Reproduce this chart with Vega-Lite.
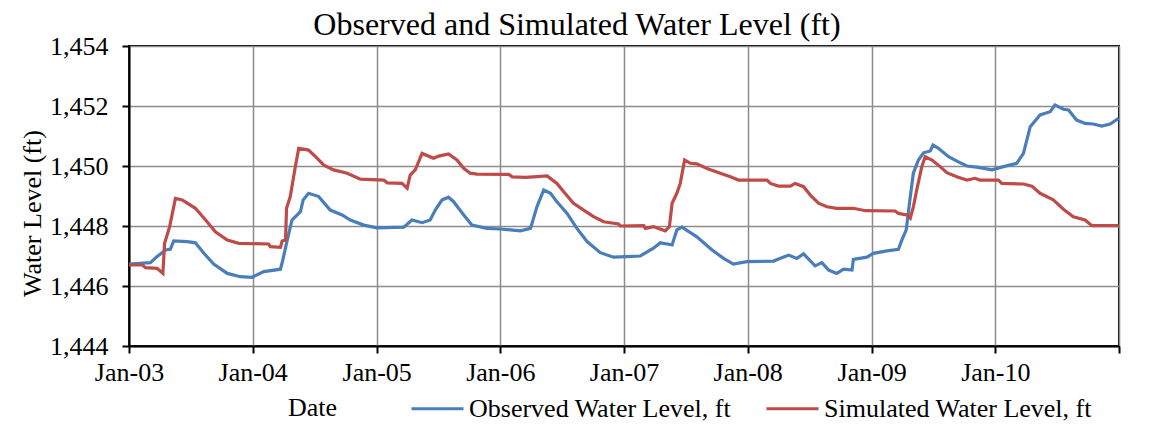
{
  "$schema": "https://vega.github.io/schema/vega-lite/v6.json",
  "width": 990,
  "height": 300,
  "autosize": {"type": "none"},
  "padding": {"left": 129, "top": 46, "right": 39, "bottom": 79},
  "background": "white",
  "title": {
    "text": "Observed and Simulated Water Level (ft)",
    "font": "Liberation Serif",
    "fontSize": 32,
    "fontWeight": "normal",
    "color": "black",
    "anchor": "middle",
    "dx": -47,
    "dy": 13,
    "offset": 4
  },
  "datasets": {
    "obs": [
      {"date": "2003-01-01", "level": 1446.73},
      {"date": "2003-03-05", "level": 1446.78},
      {"date": "2003-03-25", "level": 1446.98},
      {"date": "2003-04-19", "level": 1447.2},
      {"date": "2003-05-03", "level": 1447.22},
      {"date": "2003-05-13", "level": 1447.5},
      {"date": "2003-06-22", "level": 1447.48},
      {"date": "2003-07-16", "level": 1447.44},
      {"date": "2003-08-10", "level": 1447.09},
      {"date": "2003-09-08", "level": 1446.73},
      {"date": "2003-10-18", "level": 1446.42},
      {"date": "2003-11-26", "level": 1446.31},
      {"date": "2003-12-30", "level": 1446.29},
      {"date": "2004-02-03", "level": 1446.48},
      {"date": "2004-03-23", "level": 1446.56},
      {"date": "2004-03-30", "level": 1446.87},
      {"date": "2004-04-12", "level": 1447.53},
      {"date": "2004-04-26", "level": 1448.2},
      {"date": "2004-05-21", "level": 1448.48},
      {"date": "2004-05-29", "level": 1448.87},
      {"date": "2004-06-14", "level": 1449.09},
      {"date": "2004-07-14", "level": 1448.98},
      {"date": "2004-08-17", "level": 1448.53},
      {"date": "2004-09-21", "level": 1448.37},
      {"date": "2004-10-15", "level": 1448.2},
      {"date": "2004-11-24", "level": 1448.03},
      {"date": "2005-01-02", "level": 1447.94},
      {"date": "2005-03-22", "level": 1447.96},
      {"date": "2005-04-15", "level": 1448.2},
      {"date": "2005-05-15", "level": 1448.11},
      {"date": "2005-06-08", "level": 1448.2},
      {"date": "2005-06-23", "level": 1448.53},
      {"date": "2005-07-13", "level": 1448.87},
      {"date": "2005-08-01", "level": 1448.96},
      {"date": "2005-08-16", "level": 1448.81},
      {"date": "2005-09-15", "level": 1448.37},
      {"date": "2005-10-09", "level": 1448.03},
      {"date": "2005-11-23", "level": 1447.92},
      {"date": "2006-01-01", "level": 1447.9},
      {"date": "2006-03-01", "level": 1447.84},
      {"date": "2006-03-31", "level": 1447.92},
      {"date": "2006-04-19", "level": 1448.64},
      {"date": "2006-05-09", "level": 1449.2},
      {"date": "2006-05-29", "level": 1449.09},
      {"date": "2006-06-17", "level": 1448.81},
      {"date": "2006-07-17", "level": 1448.42},
      {"date": "2006-08-15", "level": 1447.92},
      {"date": "2006-09-14", "level": 1447.48},
      {"date": "2006-10-23", "level": 1447.11},
      {"date": "2006-12-01", "level": 1446.96},
      {"date": "2007-01-10", "level": 1446.98},
      {"date": "2007-02-18", "level": 1447.0},
      {"date": "2007-03-29", "level": 1447.26},
      {"date": "2007-04-18", "level": 1447.44},
      {"date": "2007-05-08", "level": 1447.4},
      {"date": "2007-05-23", "level": 1447.37},
      {"date": "2007-06-06", "level": 1447.87},
      {"date": "2007-06-21", "level": 1447.96},
      {"date": "2007-08-04", "level": 1447.64},
      {"date": "2007-09-18", "level": 1447.2},
      {"date": "2007-10-22", "level": 1446.92},
      {"date": "2007-11-20", "level": 1446.73},
      {"date": "2007-12-30", "level": 1446.81},
      {"date": "2008-03-17", "level": 1446.83},
      {"date": "2008-05-01", "level": 1447.03},
      {"date": "2008-05-25", "level": 1446.92},
      {"date": "2008-06-14", "level": 1447.07},
      {"date": "2008-07-18", "level": 1446.67},
      {"date": "2008-08-07", "level": 1446.78},
      {"date": "2008-08-27", "level": 1446.53},
      {"date": "2008-09-20", "level": 1446.42},
      {"date": "2008-10-10", "level": 1446.56},
      {"date": "2008-11-04", "level": 1446.53},
      {"date": "2008-11-08", "level": 1446.89},
      {"date": "2008-12-18", "level": 1446.96},
      {"date": "2009-01-06", "level": 1447.09},
      {"date": "2009-02-15", "level": 1447.17},
      {"date": "2009-03-21", "level": 1447.22},
      {"date": "2009-03-31", "level": 1447.53},
      {"date": "2009-04-13", "level": 1447.87},
      {"date": "2009-04-25", "level": 1448.98},
      {"date": "2009-05-04", "level": 1449.76},
      {"date": "2009-05-19", "level": 1450.2},
      {"date": "2009-06-03", "level": 1450.44},
      {"date": "2009-06-23", "level": 1450.5},
      {"date": "2009-07-01", "level": 1450.7},
      {"date": "2009-07-17", "level": 1450.59},
      {"date": "2009-08-16", "level": 1450.31},
      {"date": "2009-09-14", "level": 1450.14},
      {"date": "2009-10-09", "level": 1450.0},
      {"date": "2009-11-07", "level": 1449.96},
      {"date": "2009-12-22", "level": 1449.87},
      {"date": "2010-01-25", "level": 1449.98},
      {"date": "2010-03-05", "level": 1450.09},
      {"date": "2010-03-25", "level": 1450.42},
      {"date": "2010-04-14", "level": 1451.31},
      {"date": "2010-05-13", "level": 1451.7},
      {"date": "2010-06-12", "level": 1451.81},
      {"date": "2010-06-26", "level": 1452.03},
      {"date": "2010-07-21", "level": 1451.89},
      {"date": "2010-08-05", "level": 1451.87},
      {"date": "2010-08-29", "level": 1451.53},
      {"date": "2010-09-23", "level": 1451.42},
      {"date": "2010-10-17", "level": 1451.4},
      {"date": "2010-11-11", "level": 1451.33},
      {"date": "2010-12-06", "level": 1451.4},
      {"date": "2010-12-31", "level": 1451.59}
    ],
    "sim": [
      {"date": "2003-01-01", "level": 1446.7},
      {"date": "2003-02-09", "level": 1446.7},
      {"date": "2003-02-19", "level": 1446.61},
      {"date": "2003-03-25", "level": 1446.59},
      {"date": "2003-04-11", "level": 1446.42},
      {"date": "2003-04-16", "level": 1447.42},
      {"date": "2003-05-01", "level": 1447.98},
      {"date": "2003-05-18", "level": 1448.92},
      {"date": "2003-06-07", "level": 1448.87},
      {"date": "2003-06-22", "level": 1448.76},
      {"date": "2003-07-16", "level": 1448.59},
      {"date": "2003-08-15", "level": 1448.2},
      {"date": "2003-09-13", "level": 1447.81},
      {"date": "2003-10-18", "level": 1447.53},
      {"date": "2003-11-21", "level": 1447.42},
      {"date": "2004-02-17", "level": 1447.4},
      {"date": "2004-02-22", "level": 1447.31},
      {"date": "2004-03-23", "level": 1447.29},
      {"date": "2004-03-28", "level": 1447.5},
      {"date": "2004-04-07", "level": 1447.53},
      {"date": "2004-04-10", "level": 1448.59},
      {"date": "2004-04-21", "level": 1448.98},
      {"date": "2004-05-06", "level": 1449.98},
      {"date": "2004-05-16", "level": 1450.59},
      {"date": "2004-06-14", "level": 1450.53},
      {"date": "2004-07-09", "level": 1450.26},
      {"date": "2004-07-29", "level": 1450.03},
      {"date": "2004-08-27", "level": 1449.87},
      {"date": "2004-10-06", "level": 1449.76},
      {"date": "2004-11-14", "level": 1449.56},
      {"date": "2005-01-22", "level": 1449.53},
      {"date": "2005-02-01", "level": 1449.44},
      {"date": "2005-03-17", "level": 1449.42},
      {"date": "2005-04-01", "level": 1449.26},
      {"date": "2005-04-10", "level": 1449.7},
      {"date": "2005-04-25", "level": 1449.87},
      {"date": "2005-05-15", "level": 1450.42},
      {"date": "2005-06-18", "level": 1450.26},
      {"date": "2005-07-03", "level": 1450.33},
      {"date": "2005-08-01", "level": 1450.4},
      {"date": "2005-08-26", "level": 1450.2},
      {"date": "2005-09-15", "level": 1449.92},
      {"date": "2005-10-04", "level": 1449.76},
      {"date": "2005-10-24", "level": 1449.73},
      {"date": "2006-01-26", "level": 1449.72},
      {"date": "2006-02-05", "level": 1449.64},
      {"date": "2006-03-16", "level": 1449.62},
      {"date": "2006-04-09", "level": 1449.64},
      {"date": "2006-05-19", "level": 1449.67},
      {"date": "2006-06-17", "level": 1449.42},
      {"date": "2006-07-07", "level": 1449.14},
      {"date": "2006-08-05", "level": 1448.76},
      {"date": "2006-09-04", "level": 1448.53},
      {"date": "2006-10-03", "level": 1448.31},
      {"date": "2006-11-02", "level": 1448.14},
      {"date": "2006-12-16", "level": 1448.07},
      {"date": "2006-12-21", "level": 1448.0},
      {"date": "2007-02-28", "level": 1448.01},
      {"date": "2007-03-05", "level": 1447.92},
      {"date": "2007-03-29", "level": 1447.98},
      {"date": "2007-04-13", "level": 1447.92},
      {"date": "2007-05-03", "level": 1447.84},
      {"date": "2007-05-15", "level": 1447.98},
      {"date": "2007-05-23", "level": 1448.76},
      {"date": "2007-06-06", "level": 1449.09},
      {"date": "2007-06-16", "level": 1449.42},
      {"date": "2007-06-29", "level": 1450.2},
      {"date": "2007-07-16", "level": 1450.09},
      {"date": "2007-08-04", "level": 1450.07},
      {"date": "2007-09-03", "level": 1449.92},
      {"date": "2007-10-12", "level": 1449.76},
      {"date": "2007-11-11", "level": 1449.64},
      {"date": "2007-12-05", "level": 1449.53},
      {"date": "2008-02-27", "level": 1449.53},
      {"date": "2008-03-08", "level": 1449.42},
      {"date": "2008-04-01", "level": 1449.33},
      {"date": "2008-05-06", "level": 1449.33},
      {"date": "2008-05-20", "level": 1449.42},
      {"date": "2008-06-14", "level": 1449.31},
      {"date": "2008-07-04", "level": 1449.03},
      {"date": "2008-07-28", "level": 1448.76},
      {"date": "2008-08-22", "level": 1448.64},
      {"date": "2008-09-20", "level": 1448.59},
      {"date": "2008-11-08", "level": 1448.59},
      {"date": "2008-12-13", "level": 1448.51},
      {"date": "2009-03-11", "level": 1448.5},
      {"date": "2009-03-21", "level": 1448.42},
      {"date": "2009-04-15", "level": 1448.37},
      {"date": "2009-04-25", "level": 1448.26},
      {"date": "2009-05-04", "level": 1448.64},
      {"date": "2009-05-14", "level": 1449.2},
      {"date": "2009-05-29", "level": 1449.98},
      {"date": "2009-06-08", "level": 1450.31},
      {"date": "2009-06-28", "level": 1450.2},
      {"date": "2009-07-22", "level": 1449.98},
      {"date": "2009-08-11", "level": 1449.78},
      {"date": "2009-09-09", "level": 1449.64},
      {"date": "2009-10-09", "level": 1449.53},
      {"date": "2009-11-02", "level": 1449.59},
      {"date": "2009-11-17", "level": 1449.53},
      {"date": "2010-01-10", "level": 1449.53},
      {"date": "2010-01-20", "level": 1449.42},
      {"date": "2010-03-25", "level": 1449.4},
      {"date": "2010-04-19", "level": 1449.33},
      {"date": "2010-05-13", "level": 1449.09},
      {"date": "2010-06-21", "level": 1448.87},
      {"date": "2010-07-21", "level": 1448.56},
      {"date": "2010-08-19", "level": 1448.31},
      {"date": "2010-09-23", "level": 1448.2},
      {"date": "2010-10-13", "level": 1448.01},
      {"date": "2010-12-31", "level": 1448.01}
    ]
  },
  "layer": [
    {
      "data": {"name": "obs"},
      "transform": [{"calculate": "'Observed Water Level, ft'", "as": "series"}],
      "mark": {"type": "line", "strokeWidth": 3.2, "clip": true},
      "encoding": {
        "x": {"field": "date", "type": "temporal"},
        "y": {"field": "level", "type": "quantitative"},
        "color": {"field": "series", "type": "nominal"}
      }
    },
    {
      "data": {"name": "sim"},
      "transform": [{"calculate": "'Simulated Water Level, ft'", "as": "series"}],
      "mark": {"type": "line", "strokeWidth": 3.2, "clip": true},
      "encoding": {
        "x": {"field": "date", "type": "temporal"},
        "y": {"field": "level", "type": "quantitative"},
        "color": {"field": "series", "type": "nominal"}
      }
    }
  ],
  "encoding": {
    "x": {
      "field": "date",
      "type": "temporal",
      "scale": {
        "type": "utc",
        "domain": [
          {"year": 2003, "month": 1, "date": 1, "utc": true},
          {"year": 2011, "month": 1, "date": 1, "utc": true}
        ]
      },
      "axis": {
        "title": "Date",
        "values": [
          {"year": 2003, "month": 1, "date": 1, "utc": true},
          {"year": 2004, "month": 1, "date": 1, "utc": true},
          {"year": 2005, "month": 1, "date": 1, "utc": true},
          {"year": 2006, "month": 1, "date": 1, "utc": true},
          {"year": 2007, "month": 1, "date": 1, "utc": true},
          {"year": 2008, "month": 1, "date": 1, "utc": true},
          {"year": 2009, "month": 1, "date": 1, "utc": true},
          {"year": 2010, "month": 1, "date": 1, "utc": true},
          {"year": 2011, "month": 1, "date": 1, "utc": true}
        ],
        "labelExpr": "utcyear(datum.value) > 2010 ? '' : utcFormat(datum.value, '%b-%y')",
        "labelFlush": false,
        "labelOverlap": false,
        "labelPadding": 6,
        "titleX": 183,
        "titleY": 61,
        "titleBaseline": "middle"
      }
    },
    "y": {
      "field": "level",
      "type": "quantitative",
      "scale": {"domain": [1444, 1454], "nice": false, "zero": false},
      "axis": {
        "title": "Water Level (ft)",
        "values": [1444, 1446, 1448, 1450, 1452, 1454],
        "format": ",d",
        "labelPadding": 14,
        "titleX": -97,
        "titleY": 167,
        "titleBaseline": "middle",
        "titleAngle": -90
      }
    },
    "color": {
      "field": "series",
      "type": "nominal",
      "scale": {
        "domain": ["Observed Water Level, ft", "Simulated Water Level, ft"],
        "range": ["#4A7EBB", "#BE4B48"]
      },
      "legend": {
        "title": null,
        "orient": "none",
        "legendX": 281,
        "legendY": 335,
        "direction": "horizontal",
        "symbolType": "stroke",
        "symbolSize": 2704,
        "symbolStrokeWidth": 3,
        "labelFont": "Liberation Serif",
        "labelFontSize": 26,
        "labelColor": "black",
        "labelLimit": 400,
        "labelOffset": 4,
        "columnPadding": 28
      }
    }
  },
  "config": {
    "font": "Liberation Serif",
    "view": {"stroke": "black", "strokeWidth": 2},
    "axis": {
      "labelFont": "Liberation Serif",
      "labelFontSize": 26,
      "labelColor": "black",
      "titleFont": "Liberation Serif",
      "titleFontSize": 26,
      "titleFontWeight": "normal",
      "titleColor": "black",
      "domainColor": "black",
      "domainWidth": 2,
      "tickColor": "black",
      "tickWidth": 2,
      "tickSize": 7,
      "grid": true,
      "gridColor": "#8C8C8C",
      "gridWidth": 1.5
    }
  }
}
